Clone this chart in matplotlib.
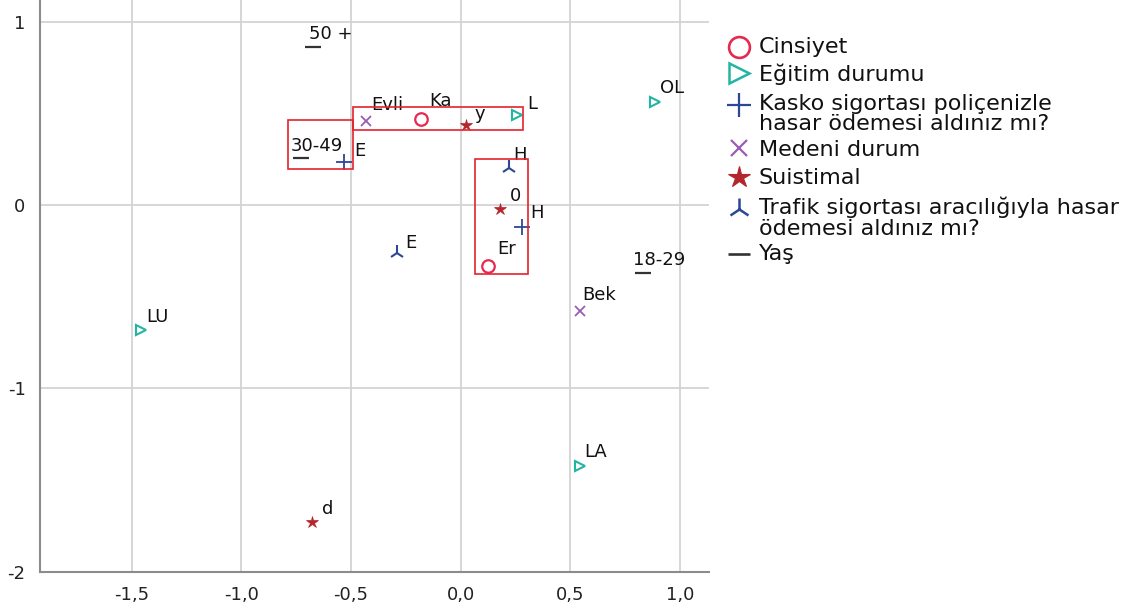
import matplotlib
matplotlib.use("Agg")
import matplotlib.pyplot as plt
from matplotlib.lines import Line2D
from matplotlib.patches import Rectangle
from matplotlib.ticker import FixedLocator, FuncFormatter

# ---- category coordinates (dimension 1, dimension 2) ----
cinsiyet_labels = ["Ka", "Er"]
cinsiyet_x = [-0.179, 0.124]
cinsiyet_y = [0.468, -0.333]

egitim_labels = ["OL", "L", "LU", "LA"]
egitim_x = [0.885, 0.256, -1.456, 0.542]
egitim_y = [0.562, 0.490, -0.682, -1.424]

kasko_labels = ["E", "H"]
kasko_x = [-0.531, 0.278]
kasko_y = [0.237, -0.122]

medeni_labels = ["Evli", "Bek"]
medeni_x = [-0.433, 0.542]
medeni_y = [0.460, -0.577]

suistimal_labels = ["y", "0", "d"]
suistimal_x = [0.024, 0.179, -0.680]
suistimal_y = [0.434, -0.020, -1.728]

trafik_labels = ["H", "E"]
trafik_x = [0.220, -0.290]
trafik_y = [0.200, -0.262]

yas_labels = ["50 +", "30-49", "18-29"]
yas_x = [-0.673, -0.727, 0.831]
yas_y = [0.864, 0.258, -0.371]

# highlighted groups of nearby categories
box_x0 = [-0.788, -0.492, 0.067]
box_x1 = [-0.492, 0.282, 0.309]
box_y0 = [0.195, 0.410, -0.379]
box_y1 = [0.462, 0.537, 0.251]

x_ticks = [-1.5, -1.0, -0.5, 0.0, 0.5, 1.0]
y_ticks = [-2, -1, 0, 1]

# ---- styles ----
series = [
    dict(name="Cinsiyet", lab=cinsiyet_labels, x=cinsiyet_x, y=cinsiyet_y,
         marker="o", color="#e5294f", ms=9, lms=15, mew=1.6, filled=False,
         off=[(8, 13), (9, 12)]),
    dict(name="Eğitim durumu", lab=egitim_labels, x=egitim_x, y=egitim_y,
         marker=">", color="#22b5a2", ms=7, lms=14, mew=1.5, filled=False,
         off=[(5, 9), (10, 6), (5, 8), (5, 9)]),
    dict(name="Kasko sigortası poliçenizle\nhasar ödemesi aldınız mı?",
         lab=kasko_labels, x=kasko_x, y=kasko_y,
         marker="+", color="#2c4796", ms=11, lms=17, mew=1.3, filled=True,
         off=[(10, 6), (9, 9)]),
    dict(name="Medeni durum", lab=medeni_labels, x=medeni_x, y=medeni_y,
         marker="x", color="#9a5cb6", ms=7, lms=11, mew=1.3, filled=True,
         off=[(6, 11), (3, 11)]),
    dict(name="Suistimal", lab=suistimal_labels, x=suistimal_x, y=suistimal_y,
         marker="*", color="#b3262c", ms=9, lms=16, mew=0.5, filled=True,
         off=[(9, 6), (10, 8), (10, 8)]),
    dict(name="Trafik sigortası aracılığıyla hasar\nödemesi aldınız mı?",
         lab=trafik_labels, x=trafik_x, y=trafik_y,
         marker="2", color="#2c4796", ms=11, lms=16, mew=1.5, filled=True,
         off=[(4, 8), (8, 5)]),
    dict(name="Yaş", lab=yas_labels, x=yas_x, y=yas_y,
         marker="_", color="#333333", ms=11, lms=16, mew=1.6, filled=True,
         off=[(-4, 8), (-11, 7), (-10, 8)]),
]

W, H = 1126, 606
fig = plt.figure(figsize=(W / 100, H / 100), dpi=100)
ax = fig.add_axes([39.5 / W, (H - 571.7) / H, (709 - 39.5) / W, 571.7 / H])

ax.set_xlim(-1.92, 1.132)
ax.set_ylim(-2.0, 1.118)

ax.xaxis.set_major_locator(FixedLocator(x_ticks))
ax.yaxis.set_major_locator(FixedLocator(y_ticks))
ax.xaxis.set_major_formatter(FuncFormatter(lambda v, p: f"{v:.1f}".replace(".", ",")))
ax.yaxis.set_major_formatter(FuncFormatter(lambda v, p: f"{v:.0f}"))
ax.tick_params(length=0, labelsize=13, labelcolor="#222222")
ax.tick_params(axis="x", pad=10.5)
ax.tick_params(axis="y", pad=10)

ax.grid(True, color="#d3d3d3", linewidth=1.3, zorder=0)
ax.set_axisbelow(True)
for side in ("top", "right"):
    ax.spines[side].set_visible(False)
for side in ("left", "bottom"):
    ax.spines[side].set_color("#8c8c8c")
    ax.spines[side].set_linewidth(1.5)

for s in series:
    face = s["color"] if s["filled"] else "none"
    ax.plot(s["x"], s["y"], linestyle="none", marker=s["marker"], ms=s["ms"],
            mew=s["mew"], mec=s["color"], mfc=face, zorder=3)
    for lab, xv, yv, off in zip(s["lab"], s["x"], s["y"], s["off"]):
        ax.annotate(lab, (xv, yv), xytext=off, textcoords="offset pixels",
                    ha="left", va="baseline", fontsize=13, color="#111111",
                    zorder=4)

for x0, x1, y0, y1 in zip(box_x0, box_x1, box_y0, box_y1):
    ax.add_patch(Rectangle((x0, y0), x1 - x0, y1 - y0, fill=False,
                           edgecolor="#e5232d", linewidth=1.2, zorder=5))

# ---- legend drawn in figure pixel space ----
lax = fig.add_axes([0, 0, 1, 1])
lax.set_xlim(0, W)
lax.set_ylim(H, 0)
lax.axis("off")
marker_y = [46.7, 73.3, 104.5, 147.5, 176.5, 208.5, 253.5]
text_top = [37.0, 63.5, 93.5, 140.0, 168.0, 196.5, 244.0]
for s, my, tt in zip(series, marker_y, text_top):
    face = s["color"] if s["filled"] else "none"
    lax.add_line(Line2D([739], [my], linestyle="none", marker=s["marker"],
                        ms=s["lms"], mew=s["mew"] + 0.3, mec=s["color"],
                        mfc=face))
    lax.text(759, tt, s["name"], ha="left", va="top", fontsize=16,
             color="#111111", linespacing=1.05)

fig.savefig("out.png", dpi=100)
